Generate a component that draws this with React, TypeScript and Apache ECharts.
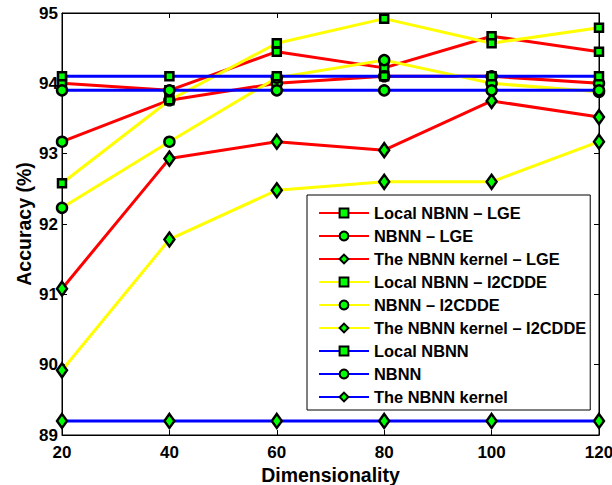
import React, { useEffect, useRef } from "react";
import * as echarts from "echarts";

const dims = [20, 40, 60, 80, 100, 120];

const localLGE = [94.0, 93.9, 94.45, 94.22, 94.67, 94.45];
const nbnnLGE = [93.17, 93.76, 94.0, 94.1, 94.1, 94.0];
const kernelLGE = [91.08, 92.93, 93.17, 93.05, 93.75, 93.52];
const localI2C = [92.58, 93.76, 94.57, 94.92, 94.57, 94.79];
const nbnnI2C = [92.23, 93.17, 94.08, 94.33, 94.0, 93.88];
const kernelI2C = [89.92, 91.78, 92.48, 92.6, 92.6, 93.17];
const localBase = [94.1, 94.1, 94.1, 94.1, 94.1, 94.1];
const nbnnBase = [93.9, 93.9, 93.9, 93.9, 93.9, 93.9];
const kernelBase = [89.2, 89.2, 89.2, 89.2, 89.2, 89.2];

const seriesDefs = [
  { name: "Local NBNN \u2013 LGE", data: localLGE, color: "#ff0000", symbol: "rect" },
  { name: "NBNN \u2013 LGE", data: nbnnLGE, color: "#ff0000", symbol: "circle" },
  { name: "The NBNN kernel \u2013 LGE", data: kernelLGE, color: "#ff0000", symbol: "diamond" },
  { name: "Local NBNN \u2013 I2CDDE", data: localI2C, color: "#ffff00", symbol: "rect" },
  { name: "NBNN \u2013 I2CDDE", data: nbnnI2C, color: "#ffff00", symbol: "circle" },
  { name: "The NBNN kernel \u2013 I2CDDE", data: kernelI2C, color: "#ffff00", symbol: "diamond" },
  { name: "Local NBNN", data: localBase, color: "#0000ff", symbol: "rect" },
  { name: "NBNN", data: nbnnBase, color: "#0000ff", symbol: "circle" },
  { name: "The NBNN kernel", data: kernelBase, color: "#0000ff", symbol: "diamond" },
];

const symbolSizes: Record<string, any> = {
  rect: [8, 8],
  circle: 10,
  diamond: [10, 14],
};

const FONT = "'Liberation Sans', Arial, Helvetica, sans-serif";

export default function App() {
  const ref = useRef<HTMLDivElement>(null);
  useEffect(() => {
    if (!ref.current) return;
    const chart = echarts.init(ref.current, undefined, { renderer: "svg" });
    const tickStyle = { show: true, inside: true, length: 5, lineStyle: { color: "#000", width: 1 } };
    const option: any = {
      animation: false,
      backgroundColor: "#fff",
      textStyle: { fontFamily: FONT },
      grid: {
        left: 62,
        right: 13,
        top: 13,
        bottom: 50,
        containLabel: false,
        outerBoundsMode: "none",
        show: true,
        borderColor: "#000",
        borderWidth: 1,
      },
      xAxis: [
        {
          type: "value",
          min: 20,
          max: 120,
          interval: 20,
          name: "Dimensionality",
          nameLocation: "middle",
          nameGap: 30,
          nameMoveOverlap: false,
          nameTextStyle: { fontFamily: FONT, fontWeight: "bold", fontSize: 19.5, color: "#000" },
          axisLine: { show: true, lineStyle: { color: "#000", width: 1 } },
          axisTick: tickStyle,
          axisLabel: { fontFamily: FONT, fontWeight: "bold", fontSize: 17, color: "#000", margin: 9 },
          splitLine: { show: false },
        },
        {
          type: "value",
          position: "top",
          min: 20,
          max: 120,
          interval: 20,
          axisLine: { show: true, lineStyle: { color: "#000", width: 1 } },
          axisTick: tickStyle,
          axisLabel: { show: false },
          splitLine: { show: false },
        },
      ],
      yAxis: [
        {
          type: "value",
          min: 89,
          max: 95,
          interval: 1,
          name: "Accuracy (%)",
          nameLocation: "middle",
          nameGap: 28,
          nameMoveOverlap: false,
          nameTextStyle: { fontFamily: FONT, fontWeight: "bold", fontSize: 19.5, color: "#000" },
          axisLine: { show: true, lineStyle: { color: "#000", width: 1 } },
          axisTick: tickStyle,
          axisLabel: { fontFamily: FONT, fontWeight: "bold", fontSize: 17, color: "#000", margin: 4 },
          splitLine: { show: false },
        },
        {
          type: "value",
          position: "right",
          min: 89,
          max: 95,
          interval: 1,
          axisLine: { show: true, lineStyle: { color: "#000", width: 1 } },
          axisTick: tickStyle,
          axisLabel: { show: false },
          splitLine: { show: false },
        },
      ],
      legend: {
        orient: "vertical",
        left: 307,
        top: 195,
        padding: [10, 4, 5, 11],
        itemWidth: 50,
        itemHeight: 11,
        itemGap: 7,
        backgroundColor: "#fff",
        borderColor: "#000",
        borderWidth: 1,
        borderRadius: 0,
        textStyle: { fontFamily: FONT, fontWeight: "bold", fontSize: 16.4, color: "#000", lineHeight: 16 },
        data: seriesDefs.map((s) => s.name),
      },
      series: seriesDefs.map((s) => ({
        name: s.name,
        type: "line",
        xAxisIndex: 0,
        yAxisIndex: 0,
        data: dims.map((d, i) => [d, s.data[i]]),
        symbol: s.symbol,
        symbolSize: symbolSizes[s.symbol],
        showSymbol: true,
        showAllSymbol: true,
        lineStyle: { color: s.color, width: 3 },
        itemStyle: { color: "#00ff00", borderColor: "#000", borderWidth: 2.5 },
        emphasis: { disabled: true },
        clip: false,
      })),
    };
    chart.setOption(option);
    return () => chart.dispose();
  }, []);
  return (
    <div
      ref={ref}
      style={{ position: "fixed", left: 0, top: 0, width: 612, height: 485 }}
    />
  );
}
